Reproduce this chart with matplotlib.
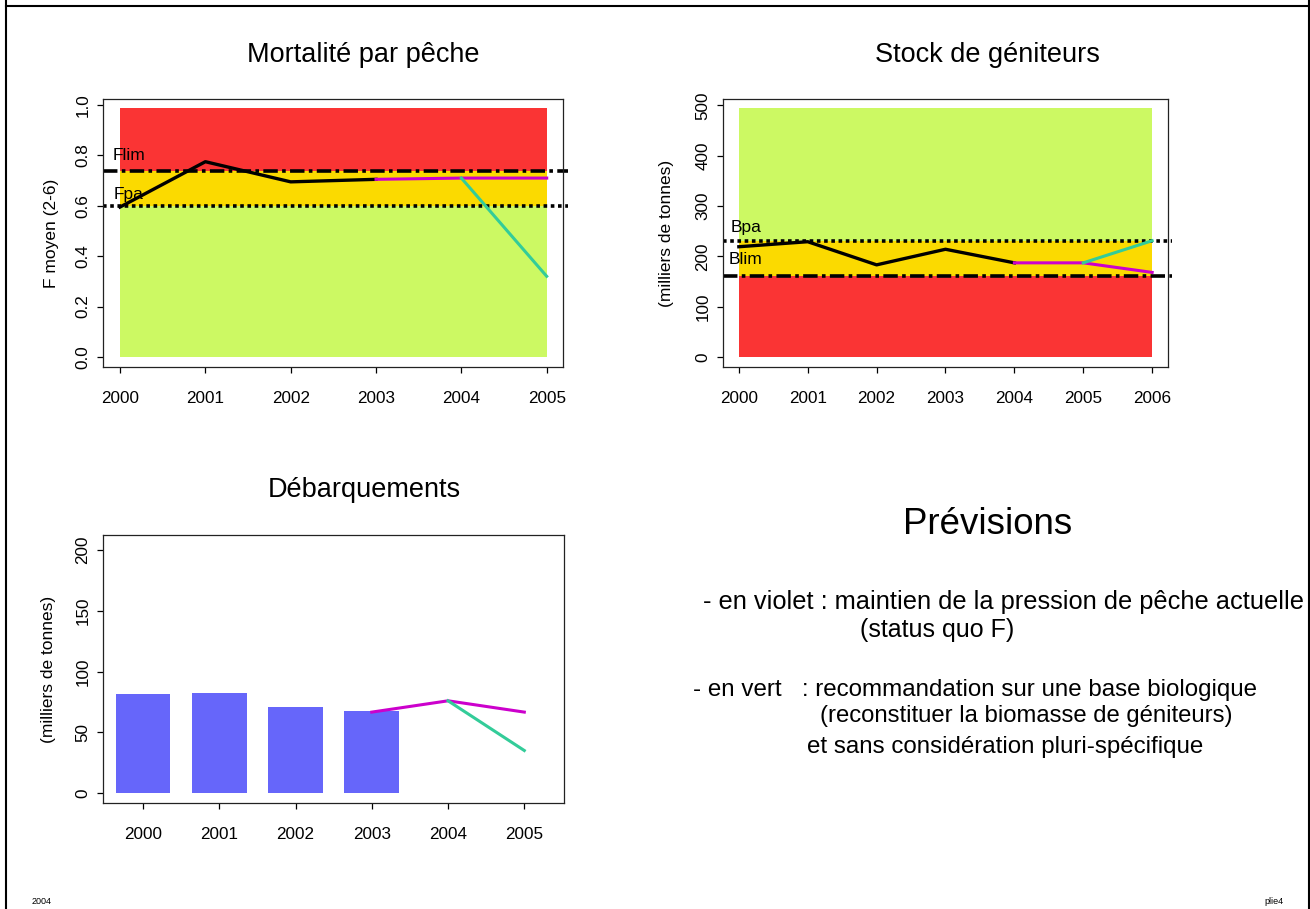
import matplotlib.pyplot as plt

plt.rcParams['font.family'] = ['Liberation Sans', 'DejaVu Sans']

# fishing mortality
f_years = [2000, 2001, 2002, 2003]
f_values = [0.595, 0.775, 0.695, 0.705]
f_sq_years = [2003, 2004, 2005]
f_sq = [0.705, 0.71, 0.71]
f_bio_years = [2004, 2005]
f_bio = [0.71, 0.32]
flim, fpa = 0.74, 0.60

# spawning stock
b_years = [2000, 2001, 2002, 2003, 2004]
b_values = [219, 229, 183, 214, 187]
b_sq_years = [2004, 2005, 2006]
b_sq = [187, 187, 168]
b_bio_years = [2005, 2006]
b_bio = [187, 231]
bpa, blim = 230, 160

# landings
l_years = [2000, 2001, 2002, 2003]
l_values = [81.6, 82.5, 70.7, 67.1]
l_sq_years = [2003, 2004, 2005]
l_sq = [66.6, 75.9, 66.6]
l_bio_years = [2004, 2005]
l_bio = [75.9, 35]

RED = '#FA3434'
YEL = '#FBDA00'
GRN = '#CCF963'
MAG = '#CC00CC'
TEAL = '#33CC99'
BAR = '#6666FA'

W, H = 1310, 909
fig = plt.figure(figsize=(13.1, 9.09), dpi=100)


def style_axes(ax, label_x):
    for s in ax.spines.values():
        s.set_linewidth(0.9)
        s.set_color('#222222')
    ax.tick_params(direction='out', length=4, width=0.9, labelsize=12.3)
    ax.tick_params(axis='x', pad=13)
    ax.tick_params(axis='y', pad=5)
    for lab in ax.get_yticklabels():
        lab.set_rotation(90)
        lab.set_va('center')
    ax.yaxis.label.set_va('center')
    ax.yaxis.set_label_coords(label_x, 0.5)


def ftext(px, py, s, **kw):
    fig.text(px / W, 1 - py / H, s, va='center', **kw)


dot = (0, (1, 1))
dashdot = (0, (4, 1.2, 1, 1.2))

# ---- Mortalité par pêche
ax1 = fig.add_axes([0.0786, 0.5963, 0.3511, 0.2948])
x0, x1 = f_years[0], f_sq_years[-1]
ax1.fill_between([x0, x1], flim, 0.99, color=RED, lw=0)
ax1.fill_between([x0, x1], fpa, flim, color=YEL, lw=0)
ax1.fill_between([x0, x1], 0, fpa, color=GRN, lw=0)
ax1.axhline(flim, xmin=0, xmax=1.01, color='black', lw=2.6, ls=dashdot, clip_on=False)
ax1.axhline(fpa, xmin=0, xmax=1.01, color='black', lw=2.6, ls=dot, clip_on=False)
ax1.plot(f_years, f_values, color='black', lw=2.4)
ax1.plot(f_sq_years, f_sq, color=MAG, lw=2.2)
ax1.plot(f_bio_years, f_bio, color=TEAL, lw=2.2)
ax1.text(2000.1, 0.80, 'Flim', fontsize=12.5, ha='center', va='center')
ax1.text(2000.1, 0.645, 'Fpa', fontsize=12.5, ha='center', va='center')
ax1.set_xlim(1999.8, 2005.19)
ax1.set_ylim(-0.04, 1.024)
ax1.set_xticks(list(range(2000, 2006)))
ax1.set_yticks([0.0, 0.2, 0.4, 0.6, 0.8, 1.0])
ax1.set_yticklabels(['0.0', '0.2', '0.4', '0.6', '0.8', '1.0'])
ax1.set_ylabel('F moyen (2-6)', fontsize=12.5)
style_axes(ax1, -0.112)
ftext(363, 55, 'Mortalité par pêche', fontsize=19.5, ha='center')

# ---- Stock de géniteurs
ax2 = fig.add_axes([0.5519, 0.5963, 0.3397, 0.2948])
x0, x1 = b_years[0], b_sq_years[-1]
ax2.fill_between([x0, x1], bpa, 495, color=GRN, lw=0)
ax2.fill_between([x0, x1], blim, bpa, color=YEL, lw=0)
ax2.fill_between([x0, x1], 0, blim, color=RED, lw=0)
ax2.axhline(bpa, xmin=0, xmax=1.01, color='black', lw=2.6, ls=dot, clip_on=False)
ax2.axhline(blim, xmin=0, xmax=1.01, color='black', lw=2.6, ls=dashdot, clip_on=False)
ax2.plot(b_years, b_values, color='black', lw=2.4)
ax2.plot(b_sq_years, b_sq, color=MAG, lw=2.2)
ax2.plot(b_bio_years, b_bio, color=TEAL, lw=2.2)
ax2.text(2000.1, 258, 'Bpa', fontsize=12.5, ha='center', va='center')
ax2.text(2000.1, 193, 'Blim', fontsize=12.5, ha='center', va='center')
ax2.set_xlim(1999.77, 2006.23)
ax2.set_ylim(-19.9, 512.6)
ax2.set_xticks(list(range(2000, 2007)))
ax2.set_yticks([0, 100, 200, 300, 400, 500])
ax2.set_ylabel('(milliers de tonnes)', fontsize=12.5)
style_axes(ax2, -0.128)
ftext(987, 55, 'Stock de géniteurs', fontsize=19.5, ha='center')

# ---- Débarquements
ax3 = fig.add_axes([0.0786, 0.1166, 0.3519, 0.2948])
ax3.bar(l_years, l_values, width=0.72, color=BAR, lw=0)
ax3.plot(l_sq_years, l_sq, color=MAG, lw=2.2)
ax3.plot(l_bio_years, l_bio, color=TEAL, lw=2.2)
ax3.set_xlim(1999.475, 2005.52)
ax3.set_ylim(-8.2, 212.3)
ax3.set_xticks(list(range(2000, 2006)))
ax3.set_yticks([0, 50, 100, 150, 200])
ax3.set_ylabel('(milliers de tonnes)', fontsize=12.5)
style_axes(ax3, -0.118)
ftext(364, 490, 'Débarquements', fontsize=19.5, ha='center')

# ---- Prévisions text
ftext(988, 525, 'Prévisions', fontsize=26.4, ha='center')
ftext(703, 602, '- en violet : maintien de la pression de pêche actuelle', fontsize=18.3, ha='left')
ftext(860, 630, '(status quo F)', fontsize=18.0, ha='left')
ftext(693, 690, '- en vert   : recommandation sur une base biologique', fontsize=17.4, ha='left')
ftext(820, 716, '(reconstituer la biomasse de géniteurs)', fontsize=17.2, ha='left')
ftext(807, 747, 'et sans considération pluri-spécifique', fontsize=17.4, ha='left')

ftext(32, 902, '2004', fontsize=6.5, ha='left')
ftext(1284, 902, 'plie4', fontsize=6.5, ha='right')

# page border
fig.add_artist(plt.Line2D([6 / W, 6 / W], [0, 1], color='black', lw=1.5))
fig.add_artist(plt.Line2D([6 / W, 1], [1 - 5.5 / H, 1 - 5.5 / H], color='black', lw=1.5))
fig.add_artist(plt.Line2D([1308.5 / W, 1308.5 / W], [0, 1], color='black', lw=1.5))

fig.savefig('out.png', dpi=100)
